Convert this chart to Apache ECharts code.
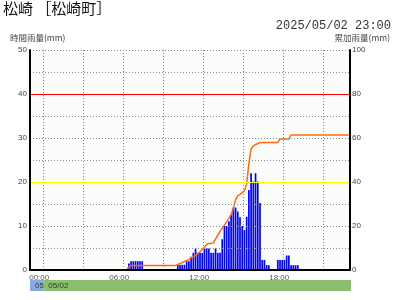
<!DOCTYPE html>
<html>
<head>
<meta charset="utf-8">
<script src="https://cdn.jsdelivr.net/npm/echarts@6.0.0/dist/echarts.min.js"></script>
<style>
  html, body { margin: 0; padding: 0; background: #fff; }
  #chart { width: 400px; height: 300px; }
</style>
</head>
<body>
<div id="chart"></div>
<script>
// 松崎 雨量グラフ（10分ごと、05/01 23:10 〜 05/02 23:00）
const stationName = '松崎 ［松崎町］';
const observedAt = '2025/05/02 23:00';
const leftAxisName = '時間雨量(mm)';
const rightAxisName = '累加雨量(mm)';
const prevDayLabel = '05';
const dayLabel = '05/02';
const xTickLabels = ['00:00', '06:00', '12:00', '18:00'];
const warnLevels = [
    { value: 40, color: '#ff0000' },
    { value: 20, color: '#ffff00' }
];

// 時間雨量 (mm) 1行 = 1時間分 (6本)
const hourlyRain = [
    0, 0, 0, 0, 0, 0,              // 23:10-00:00
    0, 0, 0, 0, 0, 0,              // 00
    0, 0, 0, 0, 0, 0,              // 01
    0, 0, 0, 0, 0, 0,              // 02
    0, 0, 0, 0, 0, 0,              // 03
    0, 0, 0, 0, 0, 0,              // 04
    0, 0, 0, 0, 0, 0,              // 05
    0, 0, 1.5, 2, 2, 2,            // 06
    2, 2, 2, 0, 0, 0,              // 07
    0, 0, 0, 0, 0, 0,              // 08
    0, 0, 0, 0, 0, 0,              // 09
    1.2, 1.2, 1.2, 1.2, 2, 2,      // 10
    3, 3.9, 4.9, 3.9, 3.9, 3.9,    // 11
    4.9, 4.9, 4.9, 3.9, 3.9, 4.9,  // 12
    3.9, 3.9, 7, 10, 10, 11.1,     // 13
    12.5, 14.2, 14.2, 13.3, 12, 10,  // 14
    9.1, 12.1, 18.2, 22, 20.1, 22, // 15
    20.1, 15.2, 2.3, 2.3, 1.1, 1.1,  // 16
    0, 0, 0, 2.3, 2.3, 2.3,        // 17
    2.3, 3.3, 3.3, 1.1, 1.1, 1.1,  // 18
    1.1, 0, 0, 0, 0, 0,            // 19
    0, 0, 0, 0, 0, 0,              // 20
    0, 0, 0, 0, 0, 0,              // 21
    0, 0, 0, 0, 0, 0               // 22
];

// 累加雨量 (mm)
const totalRain = [
    0, 0, 0, 0, 0, 0,
    0, 0, 0, 0, 0, 0,
    0, 0, 0, 0, 0, 0,
    0, 0, 0, 0, 0, 0,
    0, 0, 0, 0, 0, 0,
    0, 0, 0, 0, 0, 0,
    0, 0, 0, 0, 0, 0,
    0, 0, 1.5, 2, 2, 2,
    2, 2, 2, 2, 2, 2,
    2, 2, 2, 2, 2, 2,
    2, 2, 2, 2, 2, 2,
    2.5, 3, 3.3, 3.8, 4.3, 4.6,
    5.5, 6.1, 6.7, 7.5, 8.3, 9.3,
    10.3, 11.6, 12.1, 12.1, 12.3, 14,
    15.8, 17.4, 19, 20.4, 22, 23.5,
    25.3, 28, 31.8, 33.8, 34.4, 35.2,
    36, 39, 48.5, 55, 56.4, 57,
    57.5, 57.8, 58, 58, 58, 58,
    58, 58, 58, 58, 59.5, 59.5,
    59.5, 59.5, 59.5, 61.4, 61.4, 61.4,
    61.4, 61.4, 61.4, 61.4, 61.4, 61.4,
    61.4, 61.4, 61.4, 61.4, 61.4, 61.4,
    61.4, 61.4, 61.4, 61.4, 61.4, 61.4,
    61.4, 61.4, 61.4, 61.4, 61.4, 61.4
];

// 時刻ラベル（各10分区間の終了時刻）
const times = hourlyRain.map((_, i) => {
    const m = (23 * 60 + (i + 1) * 10) % 1440;
    return String(Math.floor(m / 60)).padStart(2, '0') + ':' + String(m % 60).padStart(2, '0');
});

const GRID = { left: 30, right: 50, top: 50, bottom: 30 };
const W = 400, H = 300;
const plotW = W - GRID.left - GRID.right;
const bandY = H - GRID.bottom + 10;

const font = "'Liberation Sans', 'Noto Sans CJK JP', sans-serif";
const jpFont = "'Noto Sans CJK JP', sans-serif";
const dotted = { color: '#8c8c8c', width: 1, type: [1, 2] };

const chart = echarts.init(document.getElementById('chart'), null, { renderer: 'canvas' });

const options = {
    backgroundColor: '#ffffff',
    animation: false,
    title: [
        { text: stationName, left: 3, top: 1, padding: 0,
          textStyle: { fontSize: 15, fontWeight: 'normal', color: '#111', fontFamily: jpFont } },
        { text: observedAt, right: 9, top: 20, padding: 0,
          textStyle: { fontSize: 12, fontWeight: 'normal', color: '#333', fontFamily: "'Liberation Mono', monospace" } },
        { text: leftAxisName, left: 10, top: 34, padding: 0,
          textStyle: { fontSize: 8.5, fontWeight: 'normal', color: '#444', fontFamily: jpFont } },
        { text: rightAxisName, right: 10, top: 34, padding: 0,
          textStyle: { fontSize: 8.5, fontWeight: 'normal', color: '#444', fontFamily: jpFont } }
    ],
    grid: {
        left: GRID.left, right: GRID.right, top: GRID.top, bottom: GRID.bottom,
        show: true, backgroundColor: '#fbfdfb', borderWidth: 0,
        outerBoundsMode: 'none'
    },
    xAxis: {
        type: 'category',
        data: times,
        boundaryGap: true,
        z: 5,
        axisLine: { lineStyle: { color: '#000', width: 2 } },
        axisTick: { show: false },
        axisLabel: {
            interval: (i, v) => xTickLabels.includes(v),
            fontSize: 8, color: '#555', fontFamily: font, margin: 4,
            padding: [0, 6, 0, 0]
        },
        splitLine: {
            show: true,
            interval: (i, v) => v.slice(3) === '10' && (+v.slice(0, 2)) % 3 === 0,
            lineStyle: dotted
        }
    },
    yAxis: [
        {
            type: 'value', min: 0, max: 50, interval: 5, z: 5,
            axisLine: { show: true, lineStyle: { color: '#000', width: 2 } },
            axisTick: { show: false },
            axisLabel: {
                formatter: v => (v % 10 === 0 ? v : ''),
                fontSize: 8, color: '#444', fontFamily: font, margin: 3,
                padding: [0, 0, 3, 0]
            },
            splitLine: { show: true, lineStyle: dotted }
        },
        {
            type: 'value', min: 0, max: 100, interval: 10, z: 5,
            position: 'right',
            axisLine: { show: true, lineStyle: { color: '#000', width: 2 } },
            axisTick: { show: false },
            axisLabel: {
                formatter: v => (v % 20 === 0 ? v : ''),
                fontSize: 8, color: '#444', fontFamily: font, margin: 2,
                padding: [0, 0, 3, 0]
            },
            splitLine: { show: false }
        }
    ],
    series: [
        {
            name: leftAxisName,
            type: 'bar',
            data: hourlyRain,
            barWidth: 1.7,
            itemStyle: { color: '#0000ff' },
            silent: true
        },
        {
            name: rightAxisName,
            type: 'line',
            yAxisIndex: 1,
            data: totalRain,
            symbol: 'none',
            z: 3,
            lineStyle: { color: '#ff6a10', width: 1.5 },
            silent: true
        },
        {
            name: 'level',
            type: 'line',
            data: [],
            z: 6,
            markLine: {
                silent: true,
                symbol: 'none',
                label: { show: false },
                data: warnLevels.map(l => ({ yAxis: l.value, lineStyle: { color: l.color, width: 1, type: 'solid' } }))
            }
        }
    ],
    graphic: [
        { type: 'rect', shape: { x: GRID.left, y: bandY, width: plotW / 24, height: 11 },
          style: { fill: '#8aaae2' } },
        { type: 'rect', shape: { x: GRID.left + plotW / 24, y: bandY, width: plotW - plotW / 24 + 1, height: 11 },
          style: { fill: '#8cbf6c' } },
        { type: 'text', x: GRID.left + 5, y: bandY + 6,
          style: { text: prevDayLabel, fontSize: 8, fill: '#333', font: '8px ' + font, verticalAlign: 'middle' } },
        { type: 'text', x: GRID.left + plotW / 24 + 5, y: bandY + 6,
          style: { text: dayLabel, fontSize: 8, fill: '#333', font: '8px ' + font, verticalAlign: 'middle' } }
    ]
};

chart.setOption(options);
</script>
</body>
</html>
